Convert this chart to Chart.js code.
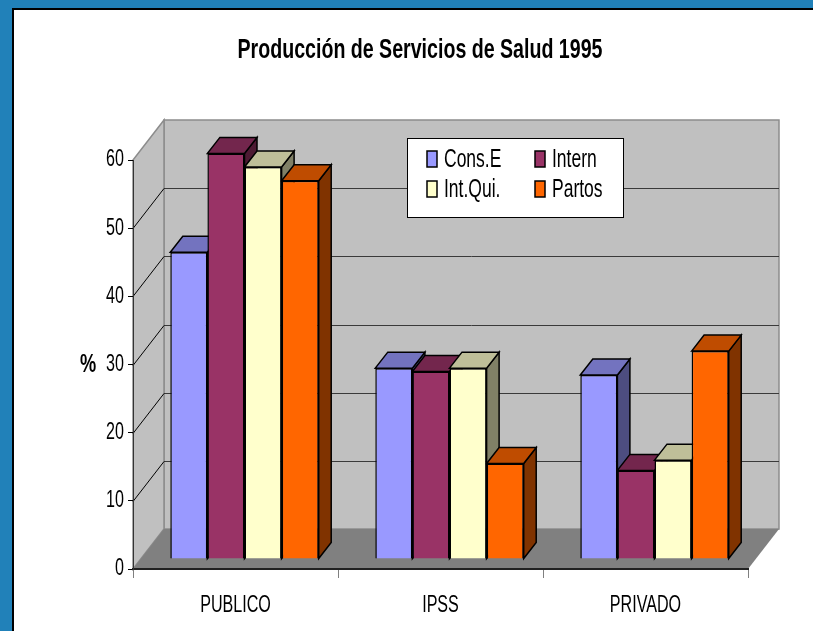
<!DOCTYPE html>
<html lang="es">
<head>
<meta charset="utf-8">
<title>Producción de Servicios de Salud 1995</title>
<script src="https://cdn.jsdelivr.net/npm/chart.js@4.4.1/dist/chart.umd.min.js"></script>
<style>
  html, body { margin: 0; padding: 0; background: #ffffff; }
  #grafico { display: block; }
</style>
</head>
<body>
<canvas id="grafico" width="813" height="631"></canvas>
<script>
const categorias = ['PUBLICO', 'IPSS', 'PRIVADO'];
const consE = [45, 28, 27];
const intern = [59.5, 27.5, 13];
const intQui = [57.5, 28, 14.5];
const partos = [55.5, 14, 30.5];
const ticksY = [0, 10, 20, 30, 40, 50, 60];

const fuente = "'Liberation Sans', Arial, sans-serif";
const ESTRECHO = 0.7;                // texto condensado como en el original

const PARED = { dx: 31, dy: -40 };   // profundidad de las paredes
const BARRA = { dx: 9, dy: -10 };    // posicion de las barras dentro del fondo
const PROF = { dx: 12.5, dy: -16 };  // profundidad de cada barra

function poligono(ctx, puntos, relleno, borde, ancho) {
  ctx.beginPath();
  ctx.moveTo(puntos[0][0], puntos[0][1]);
  for (let i = 1; i < puntos.length; i++) ctx.lineTo(puntos[i][0], puntos[i][1]);
  ctx.closePath();
  if (relleno) { ctx.fillStyle = relleno; ctx.fill(); }
  if (borde) { ctx.strokeStyle = borde; ctx.lineWidth = ancho || 1; ctx.stroke(); }
}

const escena = {
  id: 'escena',
  beforeDraw(chart) {
    const ctx = chart.ctx;
    const area = chart.chartArea;
    const y = chart.scales.y;
    const x0 = area.left, x1 = area.right;
    const yb = y.getPixelForValue(0), yt = y.getPixelForValue(60);
    ctx.save();
    // marco azul
    ctx.fillStyle = '#ffffff';
    ctx.fillRect(0, 0, chart.width, chart.height);
    ctx.fillStyle = '#2181b9';
    ctx.fillRect(0, 0, chart.width, 8);
    ctx.fillRect(0, 0, 12, chart.height);
    ctx.fillStyle = '#000000';
    ctx.fillRect(12, 8, chart.width - 12, 2);
    ctx.fillRect(12, 8, 2, chart.height - 8);

    // paredes y piso
    poligono(ctx, [[x0 + PARED.dx, yt + PARED.dy], [x1 + PARED.dx, yt + PARED.dy], [x1 + PARED.dx, yb + PARED.dy], [x0 + PARED.dx, yb + PARED.dy]], '#c0c0c0', '#8c8c8c', 1.5);
    poligono(ctx, [[x0, yb], [x0, yt], [x0 + PARED.dx, yt + PARED.dy], [x0 + PARED.dx, yb + PARED.dy]], '#c0c0c0', '#8c8c8c', 1.5);
    poligono(ctx, [[x0, yb], [x0 + PARED.dx, yb + PARED.dy], [x1 + PARED.dx, yb + PARED.dy], [x1, yb]], '#808080');

    ticksY.forEach(v => {
      if (v === 0 || v === 60) return;
      const py = Math.round(y.getPixelForValue(v)) + 0.5;
      ctx.lineWidth = 1;
      ctx.strokeStyle = '#3a3a3a';
      ctx.beginPath();
      ctx.moveTo(x0 + PARED.dx, py + PARED.dy);
      ctx.lineTo(x1 + PARED.dx, py + PARED.dy);
      ctx.stroke();
      ctx.strokeStyle = '#000000';
      ctx.beginPath();
      ctx.moveTo(x0, py);
      ctx.lineTo(x0 + PARED.dx, py + PARED.dy);
      ctx.stroke();
    });

    ctx.fillStyle = '#000000';
    ctx.font = 'bold 26px ' + fuente;
    ctx.textAlign = 'center';
    ctx.textBaseline = 'middle';
    ctx.fillText('%', 88, 365);
    ctx.restore();
  },
  beforeDatasetsDraw(chart) {
    // caras de arriba y laterales, de izquierda a derecha
    const ctx = chart.ctx;
    const datasets = chart.data.datasets;
    ctx.save();
    ctx.translate(BARRA.dx, BARRA.dy);
    categorias.forEach((c, j) => {
      datasets.forEach((ds, i) => {
        const bar = chart.getDatasetMeta(i).data[j];
        const izq = bar.x - bar.width / 2, der = bar.x + bar.width / 2;
        const arriba = bar.y, abajo = bar.base;
        poligono(ctx, [[der, arriba], [der + PROF.dx, arriba + PROF.dy], [der + PROF.dx, abajo + PROF.dy], [der, abajo]], ds.lado, '#000', 1.5);
        poligono(ctx, [[izq, arriba], [izq + PROF.dx, arriba + PROF.dy], [der + PROF.dx, arriba + PROF.dy], [der, arriba]], ds.tapa, '#000', 1.5);
      });
    });
    ctx.restore();
  },
  beforeDatasetDraw(chart) {
    chart.ctx.save();
    chart.ctx.translate(BARRA.dx, BARRA.dy);
  },
  afterDatasetDraw(chart) {
    chart.ctx.restore();
  },
  afterDraw(chart) {
    const ctx = chart.ctx;
    ctx.save();
    ctx.fillStyle = '#ffffff';
    ctx.fillRect(407, 138, 216, 79);
    ctx.strokeStyle = '#000000';
    ctx.lineWidth = 1;
    ctx.strokeRect(407.5, 138.5, 216, 79);
    const cols = [427, 535], filas = [159, 189];
    ctx.font = '25px ' + fuente;
    ctx.textAlign = 'left';
    ctx.textBaseline = 'middle';
    chart.data.datasets.forEach((ds, i) => {
      const px = cols[i % 2], py = filas[Math.floor(i / 2)];
      ctx.fillStyle = ds.backgroundColor;
      ctx.fillRect(px, py - 8, 10, 16);
      ctx.lineWidth = 1.5;
      ctx.strokeRect(px, py - 8, 10, 16);
      ctx.fillStyle = '#000000';
      ctx.fillText(ds.label, px + 17, py + 1);
    });
    ctx.restore();
  }
};

const ctx = document.getElementById('grafico').getContext('2d');

// todo el texto se dibuja estrechado en horizontal
const fillTextOriginal = ctx.fillText;
ctx.fillText = function (texto, x, y, maximo) {
  this.save();
  this.translate(x, y);
  this.scale(ESTRECHO, 1);
  if (maximo === undefined) fillTextOriginal.call(this, texto, 0, 0);
  else fillTextOriginal.call(this, texto, 0, 0, maximo / ESTRECHO);
  this.restore();
};

Chart.defaults.font.family = fuente;
Chart.defaults.color = '#000000';

new Chart(ctx, {
  type: 'bar',
  data: {
    labels: categorias,
    datasets: [
      { label: 'Cons.E', data: consE, backgroundColor: '#9999ff', tapa: '#7373bf', lado: '#4d4d80' },
      { label: 'Intern', data: intern, backgroundColor: '#993366', tapa: '#73264d', lado: '#4d1a33' },
      { label: 'Int.Qui.', data: intQui, backgroundColor: '#ffffcc', tapa: '#bfbf99', lado: '#808066' },
      { label: 'Partos', data: partos, backgroundColor: '#ff6600', tapa: '#bf4c00', lado: '#803300' }
    ]
  },
  options: {
    responsive: false,
    animation: false,
    events: [],
    layout: { padding: { left: 92, right: 65, top: 0, bottom: 0 } },
    datasets: {
      bar: { categoryPercentage: 0.724, barPercentage: 1, borderColor: '#000000', borderWidth: 1.5, clip: false }
    },
    plugins: {
      legend: { display: false },
      tooltip: { enabled: false },
      title: {
        display: true,
        text: 'Producción de Servicios de Salud 1995',
        color: '#000000',
        font: { size: 28, weight: 'bold', family: fuente },
        padding: { top: 33, bottom: 93.4 }
      }
    },
    scales: {
      x: {
        grid: { drawOnChartArea: false, tickLength: 9, color: '#808080', offset: true },
        border: { color: '#222222', width: 2 },
        ticks: { color: '#000000', font: { size: 23 }, padding: 14, maxRotation: 0 },
        afterFit: s => { s.height = 62; }
      },
      y: {
        min: 0,
        max: 60,
        afterBuildTicks: s => { s.ticks = ticksY.map(v => ({ value: v })); },
        ticks: { color: '#000000', font: { size: 23 }, padding: 4 },
        grid: { drawOnChartArea: false, tickLength: 5, color: '#000000' },
        border: { color: '#333333', width: 1 },
        afterFit: s => { s.width = 41; }
      }
    }
  },
  plugins: [escena]
});
</script>
</body>
</html>
